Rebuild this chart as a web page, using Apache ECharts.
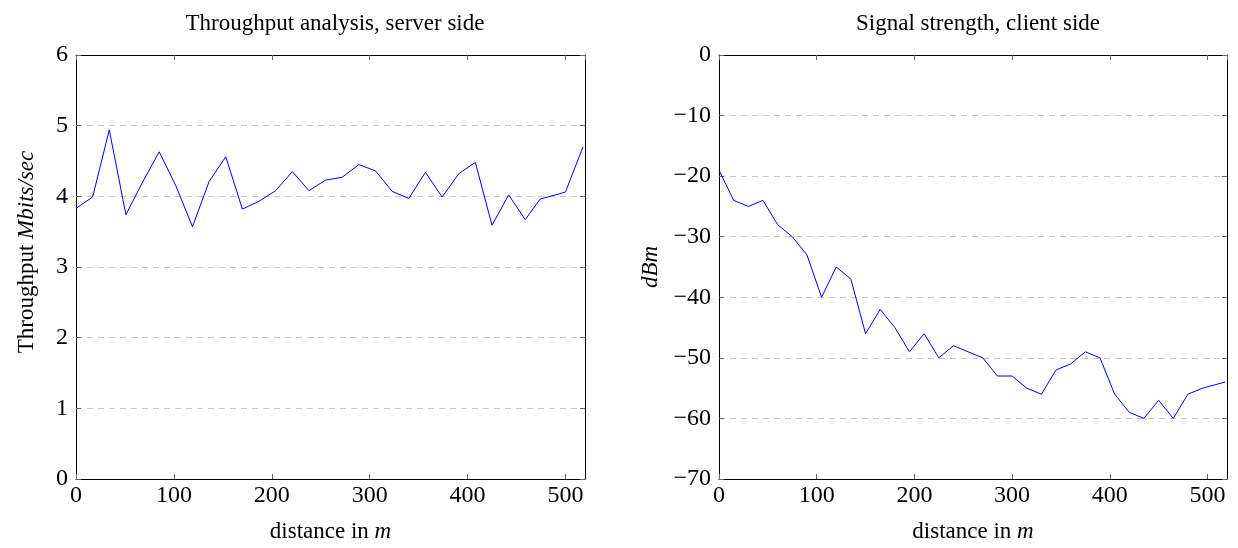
<!DOCTYPE html>
<html>
<head>
<meta charset="utf-8">
<script src="https://cdn.jsdelivr.net/npm/echarts@6/dist/echarts.min.js"></script>
<style>
html,body{margin:0;padding:0;background:#fff;}
#chart{width:1238px;height:548px;}
</style>
</head>
<body>
<div id="chart"></div>
<script>
// Throughput (server side)
const throughputX = [0,17,34,51,68,85,102,119,136,153,170,187,204,221,238,255,272,289,306,323,340,357,374,391,408,425,442,459,474,500,518];
const throughputY = [3.83,3.99,4.94,3.74,4.2,4.63,4.15,3.57,4.21,4.56,3.82,3.93,4.08,4.35,4.08,4.23,4.27,4.45,4.36,4.07,3.97,4.34,3.99,4.32,4.48,3.59,4.02,3.67,3.96,4.06,4.70];
// Signal strength (client side)
const signalX = [0,15,30,45,60,75,90,105,120,135,150,165,180,195,210,225,240,255,270,285,300,315,330,345,360,375,390,405,420,435,450,465,480,495,518];
const signalY = [-19,-24,-25,-24,-28,-30,-33,-40,-35,-37,-46,-42,-45,-49,-46,-50,-48,-49,-50,-53,-53,-55,-56,-52,-51,-49,-50,-56,-59,-60,-57,-60,-56,-55,-54];

const titles = ['Throughput analysis, server side', 'Signal strength, client side'];
const xName = 'distance in {i|m}';
const yNames = ['Throughput {i|Mbits/sec}', '{i|dBm}'];
const xTicks = {min: 0, max: 520, interval: 100};
const yTicksLeft = {min: 0, max: 6, interval: 1};
const yTicksRight = {min: -70, max: 0, interval: 10};

const FONT = 'Liberation Serif';
const minus = v => String(v).replace('-', '\u2212');
const tickStyle = {show: true, inside: true, length: 5, lineStyle: {color: '#666', width: 1}};
const lineStyle = {show: true, onZero: false, lineStyle: {color: '#000', width: 1}};
const lblStyle = {color: '#000', fontFamily: FONT, fontSize: 24, formatter: minus};
const nameStyle = {color: '#000', fontFamily: FONT, fontSize: 23, rich: {i: {fontStyle: 'italic', fontFamily: FONT, fontSize: 23, color: '#000'}}};

function pairs(xs, ys) { return xs.map((x, i) => [x, ys[i]]); }

const grids = [
  {left: 76, top: 55, width: 509, height: 425, containLabel: false},
  {left: 719, top: 55, width: 508, height: 425, containLabel: false}
];

const xAxes = [], yAxes = [];
[0, 1].forEach(g => {
  xAxes.push({type: 'value', gridIndex: g, position: 'bottom', ...xTicks,
    axisLine: lineStyle, axisTick: tickStyle, splitLine: {show: false},
    axisLabel: {...lblStyle, margin: 5},
    name: xName, nameLocation: 'middle', nameGap: 41, nameTextStyle: nameStyle});
  xAxes.push({type: 'value', gridIndex: g, position: 'top', ...xTicks,
    axisLine: lineStyle, axisTick: tickStyle, splitLine: {show: false}, axisLabel: {show: false}});
  const yt = g === 0 ? yTicksLeft : yTicksRight;
  yAxes.push({type: 'value', gridIndex: g, position: 'left', ...yt,
    axisLine: lineStyle, axisTick: tickStyle,
    splitLine: {show: true, showMinLine: false, showMaxLine: false, lineStyle: {color: '#c8c8c8', type: [6, 5], width: 1}},
    axisLabel: {...lblStyle, margin: 8},
    name: yNames[g], nameLocation: 'middle', nameGap: g === 0 ? 38 : 57, nameRotate: 90,
    nameTextStyle: g === 0 ? {...nameStyle, padding: [0, 0, 0, 30]} : nameStyle});
  yAxes.push({type: 'value', gridIndex: g, position: 'right', ...yt,
    axisLine: lineStyle, axisTick: tickStyle, splitLine: {show: false}, axisLabel: {show: false}});
});

const chart = echarts.init(document.getElementById('chart'), null, {renderer: 'canvas'});
chart.setOption({
  animation: false,
  backgroundColor: '#fff',
  title: [
    {text: titles[0], left: 330, top: 7, textAlign: 'center', textStyle: {fontFamily: FONT, fontSize: 23, fontWeight: 'normal', color: '#000'}},
    {text: titles[1], left: 973, top: 7, textAlign: 'center', textStyle: {fontFamily: FONT, fontSize: 23, fontWeight: 'normal', color: '#000'}}
  ],
  grid: grids,
  xAxis: xAxes,
  yAxis: yAxes,
  series: [
    {type: 'line', xAxisIndex: 0, yAxisIndex: 0, data: pairs(throughputX, throughputY), showSymbol: false, lineStyle: {color: '#0000ff', width: 1}, clip: true},
    {type: 'line', xAxisIndex: 2, yAxisIndex: 2, data: pairs(signalX, signalY), showSymbol: false, lineStyle: {color: '#0000ff', width: 1}, clip: true}
  ]
});
</script>
</body>
</html>
